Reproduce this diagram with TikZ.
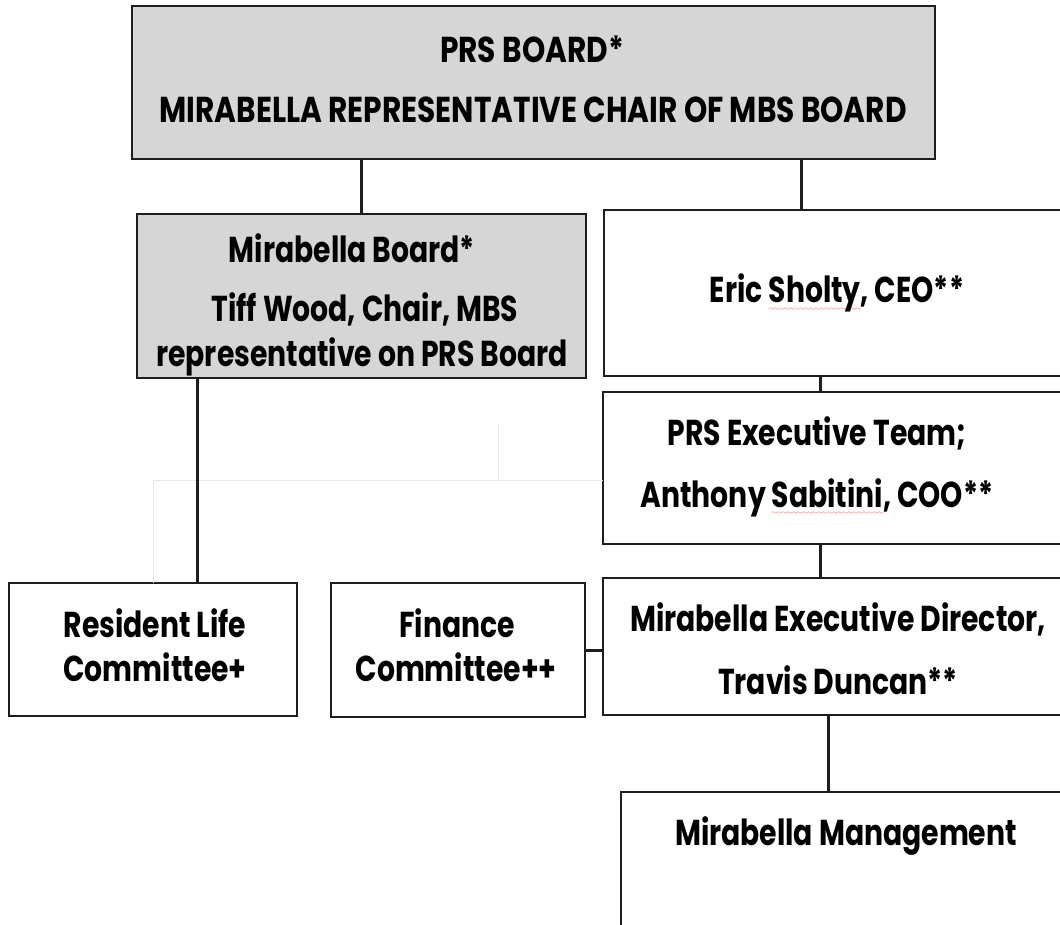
\documentclass[tikz,border=0pt]{standalone}
\usepackage{fontspec}
\setmainfont{Poppins}[FakeStretch=0.785]
\newfontfamily\capsfont{Poppins}[FakeStretch=0.823]
\definecolor{boxgray}{RGB}{214,214,214}
\definecolor{edge}{RGB}{30,30,30}
\font\wavefont=lasy6
\newsavebox\wavebox
\newcommand\redwave[1]{\sbox\wavebox{#1}\leavevmode\rlap{\lower7pt\hbox to\wd\wavebox{\color{red}\xleaders\hbox{\wavefont\char58}\hfill}}\usebox\wavebox}
\begin{document}
\begin{tikzpicture}[x=1pt,y=-1pt,
  box/.style={draw=edge, line width=2.5pt, fill=white, anchor=north west, inner sep=0pt, outer sep=0pt},
  gbox/.style={box, fill=boxgray},
  lbl/.style={anchor=base, inner sep=0pt, font=\fontsize{36}{42}\selectfont\bfseries},
  caps/.style={lbl, font=\fontsize{36}{42}\selectfont\capsfont\bfseries},
  link/.style={draw=edge, line width=3pt},
  faint/.style={draw=black!9, line width=1pt}]
\useasboundingbox (0,0) rectangle (1060,925);
\clip (0,0) rectangle (1060,925);
% faint guide lines
\coordinate (fa) at (153,480);
\coordinate (fv) at (498,425);
% boxes
\node[gbox, minimum width=803pt, minimum height=153pt] (top) at (132,6) {};
\node[gbox, minimum width=449pt, minimum height=164pt] (mb) at (137,214) {};
\node[box, minimum width=470pt, minimum height=166pt] (eric) at (604,210) {};
\node[box, minimum width=470pt, minimum height=152pt] (prsx) at (603,392) {};
\node[box, minimum width=470pt, minimum height=137pt] (mx) at (603,578) {};
\node[box, minimum width=460pt, minimum height=160pt] (mgmt) at (621,792) {};
\node[box, minimum width=288pt, minimum height=133pt] (rl) at (9,583) {};
\node[box, minimum width=254pt, minimum height=134pt] (fin) at (331,583) {};
\draw[faint] (rl.north -| fa) -- (fa) -- (fa -| prsx.west);
\draw[faint] (fa -| fv) -- (fv);
% connectors
\coordinate (xe) at (801,0);
\coordinate (xp) at (820,0);
\coordinate (xm) at (828,0);
\coordinate (xr) at (197,0);
\coordinate (yf) at (0,650);
\draw[link] (top.south -| mb.north) -- (mb.north);
\draw[link] (top.south -| xe) -- (eric.north -| xe);
\draw[link] (eric.south -| xp) -- (prsx.north -| xp);
\draw[link] (prsx.south -| xp) -- (mx.north -| xp);
\draw[link] (mx.south -| xm) -- (mgmt.north -| xm);
\draw[link] (mb.south -| xr) -- (rl.north -| xr);
\draw[link] (fin.east |- yf) -- (mx.west |- yf);
% texts
\node[caps] (t1) at (532,63) {PRS BOARD*};
\node[caps] (t2) at (533,123) {MIRABELLA REPRESENTATIVE CHAIR OF MBS BOARD};
\node[lbl] (m1) at (352,263) {Mirabella Board*};
\node[lbl] (m2) at (365,321) {Tiff Wood, Chair, MBS};
\node[lbl] (m3) at (362,366) {representative on PRS Board};
\node[lbl] (e1) at (837,303) {Eric \redwave{Sholty}, CEO**};
\node[lbl] (p1) at (817,445) {PRS Executive Team;};
\node[lbl] (p2) at (817,507) {Anthony \redwave{Sabitini}, COO**};
\node[lbl] (x1) at (838,631) {Mirabella Executive Director,};
\node[lbl] (x2) at (838,694) {Travis Duncan**};
\node[lbl] (g1) at (846,845) {Mirabella Management};
\node[lbl] (r1) at (155,637) {Resident Life};
\node[lbl] (r2) at (155,681) {Committee+};
\node[lbl] (f1) at (457,637) {Finance};
\node[lbl] (f2) at (456,681) {Committee++};
\end{tikzpicture}
\end{document}
